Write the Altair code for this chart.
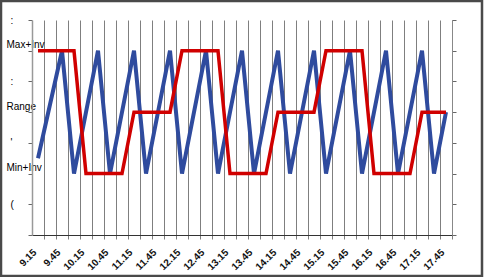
import json
import altair as alt
import pandas as pd

# Quarter-hour categories (labels shown every half hour)
times = ["9.15", "9.30", "9.45", "10.00", "10.15", "10.30", "10.45", "11.00",
         "11.15", "11.30", "11.45", "12.00", "12.15", "12.30", "12.45", "13.00",
         "13.15", "13.30", "13.45", "14.00", "14.15", "14.30", "14.45", "15.00",
         "15.15", "15.30", "15.45", "16.00", "16.15", "16.30", "16.45", "17.00",
         "17.15", "17.30", "17.45"]

# Blue zig-zag series (level units: 2 = Min+Inv, 4 = Range, 6 = Max+Inv)
blue = [2.5, 4.25, 6, 2, 4, 6, 2, 4, 6, 2, 4, 6, 2, 4, 6, 2, 4, 6,
        2, 4, 6, 2, 4, 6, 2, 4, 6, 2, 4, 6, 2, 4, 6, 2, 4]

# Red step series
red = [6, 6, 6, 6, 2, 2, 2, 2, 4, 4, 4, 4, 6, 6, 6, 6, 2, 2, 2, 2,
       4, 4, 4, 4, 6, 6, 6, 6, 2, 2, 2, 2, 4, 4, 4]

# Left axis tick labels for levels 0..7
y_labels = ["", "(", "Min+Inv", "'", "Range", ":", "Max+Inv", ":"]

df = pd.DataFrame({"i": list(range(len(times))), "time": times,
                   "blue": blue, "red": red})

FONT = "Liberation Sans"

x_enc = alt.X(
    "i:Q",
    scale=alt.Scale(domain=[-0.5, 34.5], nice=False, zero=False),
    axis=alt.Axis(
        values=list(range(len(times))),
        tickOffset=6,
        labelOffset=-13,
        labelExpr="datum.value % 2 == 0 ? " + json.dumps(times) + "[datum.value] : ''",
        labelAngle=-45,
        labelAlign="right",
        labelBaseline="top",
        labelOverlap=False,
        labelFlush=False,
        labelPadding=8,
        labelFontSize=10,
        labelFontWeight="bold",
        labelColor="#111111",
        labelFont=FONT,
        grid=True,
        gridColor="#7f7f7f",
        gridWidth=1,
        ticks=True,
        tickSize=4,
        tickColor="#7f7f7f",
        domainColor="#333333",
        domainWidth=1,
        title=None,
    ),
)

y_scale = alt.Scale(domain=[0, 7], nice=False, zero=False)

blue_line = alt.Chart(df).mark_line(
    color="#2f4b9e", strokeWidth=4, strokeJoin="miter"
).encode(
    x=x_enc,
    y=alt.Y(
        "blue:Q",
        scale=y_scale,
        axis=alt.Axis(
            orient="left",
            values=list(range(8)),
            labelExpr=json.dumps(y_labels) + "[datum.value]",
            labelAlign="left",
            labelBaseline={"condition": {"test": "datum.value % 2 == 0", "value": "alphabetic"},
                           "value": "middle"},
            labelOffset={"condition": {"test": "datum.value % 2 == 0", "value": -3},
                         "value": 0},
            labelPadding={"condition": {"test": "datum.value % 2 == 0", "value": 22},
                          "value": 18},
            labelFontSize=10,
            labelFont=FONT,
            labelColor="#000000",
            labelOverlap=False,
            labelFlush=False,
            tickSize=4,
            tickColor="#666666",
            domainColor="#999999",
            domainWidth=1.5,
            grid=False,
            title=None,
            zindex=1,
        ),
    ),
)

red_line = alt.Chart(df).mark_line(
    color="#d00000", strokeWidth=3.5, strokeJoin="miter"
).encode(
    x=x_enc,
    y=alt.Y(
        "red:Q",
        scale=y_scale,
        axis=alt.Axis(
            orient="right",
            values=list(range(8)),
            labels=False,
            tickSize=4,
            tickColor="#666666",
            domainColor="#888888",
            grid=False,
            title=None,
        ),
    ),
)

frame = alt.Chart(pd.DataFrame({"a": [0]})).mark_rect(
    fill=None, stroke="#4a4a4a", strokeWidth=2.5
).encode(
    x=alt.value(-31), x2=alt.value(450),
    y=alt.value(-19), y2=alt.value(256),
)

chart = alt.layer(blue_line, red_line, frame).resolve_axis(
    y="independent"
).properties(
    width=420,
    height=215,
    autosize=alt.AutoSizeParams(type="none"),
    padding={"left": 32, "top": 20, "right": 32, "bottom": 42},
    background="#ffffff",
).configure_view(stroke=None)

chart.save("out.html", embed_options={"renderer": "svg", "actions": False})
